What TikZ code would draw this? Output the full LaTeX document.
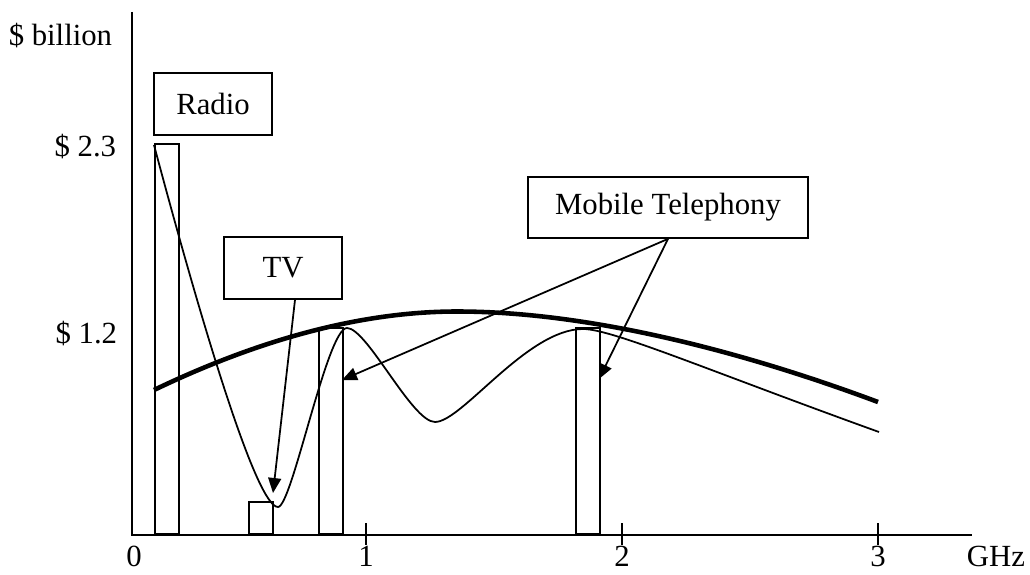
\documentclass[tikz,border=0pt]{standalone}
\usepackage{fontspec}
\setmainfont{Liberation Serif}
\usetikzlibrary{arrows.meta}

\begin{document}
\begin{tikzpicture}[>={Triangle[length=0.3cm,width=0.26cm]},line width=1pt,
                    font=\fontsize{17.5}{21}\selectfont]
  \tikzstyle{label box} = [rectangle, draw, minimum width=2.36cm, minimum height=1.24cm]
  \tikzstyle{band} = [rectangle, draw, line width=1.1pt, anchor=south west,
    inner sep=0pt, minimum width=0.48cm]
  \tikzstyle{axis label} = [inner sep=0pt, anchor=base east]
  \tikzstyle{tick label} = [inner sep=0pt, anchor=base]

  \useasboundingbox (-2.64,-0.78) rectangle (17.96,10.70);

  % axes and ticks
  \draw[line width=1.2pt] (0,10.46) -- (0,0) -- (16.8,0);
  \foreach \x/\f in {4.68/1, 9.80/2, 14.92/3}{
    \draw[line width=1.2pt] (\x,0.24) -- (\x,-0.2);
    \node[tick label] (tick\f) at (\x,-0.62) {\f};
  }
  \node[tick label] (tick0) at (0.04,-0.62) {0};
  \node[tick label] (ghz) at (17.28,-0.62) {GHz};

  \node[axis label] (unit) at (-0.38,9.78) {\$ billion};
  \node[axis label] (high) at (-0.30,7.56) {\$ 2.3};
  \node[axis label] (low) at (-0.28,3.84) {\$ 1.2};

  % spectrum bands
  \node[band, minimum height=7.80cm] (radio band) at (0.44,0) {};
  \node[band, minimum height=0.64cm] (tv band) at (2.32,0) {};
  \node[band, minimum height=4.12cm] (gsm band) at (3.72,0) {};
  \node[band, minimum height=4.12cm] (dcs band) at (8.86,0) {};

  % value curves
  \draw[line width=2.6pt] (0.44,2.90) .. controls (2.44,3.86) and (4.5,4.47) .. (6.5,4.47)
    .. controls (9.0,4.47) and (12.0,3.75) .. (14.92,2.66);
  \draw (0.44,7.80) .. controls (1.44,4.05) and (2.5,0.56) .. (2.92,0.56)
    .. controls (3.2,0.56) and (3.9,4.14) .. (4.30,4.14)
    .. controls (4.7,4.14) and (5.6,2.26) .. (6.06,2.26)
    .. controls (6.6,2.26) and (7.9,4.12) .. (9.02,4.12)
    .. controls (9.6,4.12) and (11.5,3.3) .. (14.94,2.06);

  % labels
  \node[label box] (radio) at (1.62,8.62) {Radio};
  \node[label box] (tv) at (3.02,5.34) {TV};
  \node[label box, minimum width=5.6cm, minimum height=1.22cm] (mobile)
    at (10.72,6.55) {Mobile Telephony};

  \coordinate (tv tip) at (2.82,0.84);
  \coordinate (gsm tip) at (4.20,3.10);
  \coordinate (dcs tip) at (9.34,3.12);

  \draw[->] ([xshift=0.24cm]tv.south) -- (tv tip);
  \draw[->] (mobile.south) -- (gsm tip);
  \draw[->] (mobile.south) -- (dcs tip);
\end{tikzpicture}
\end{document}
